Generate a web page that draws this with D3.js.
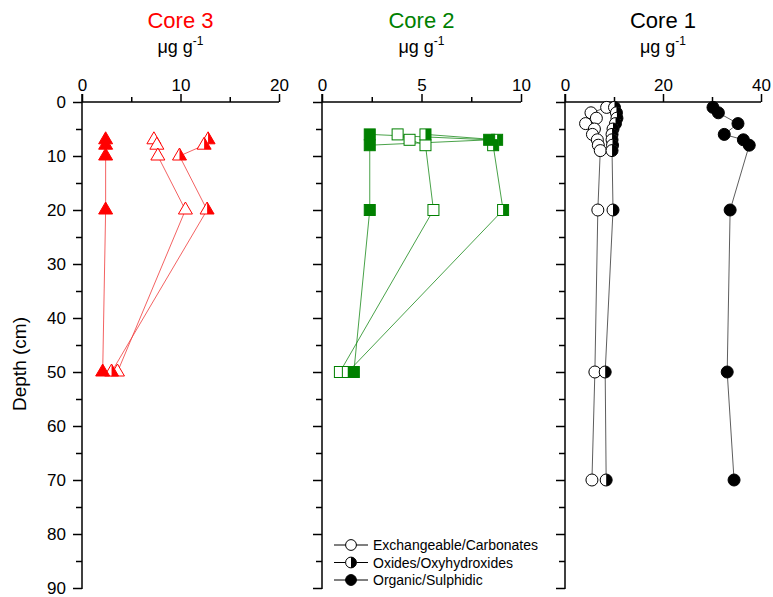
<!DOCTYPE html>
<html>
<head>
<meta charset="utf-8">
<script src="https://cdn.jsdelivr.net/npm/d3@7"></script>
<style>
  html, body { margin: 0; padding: 0; background: #fff; }
  svg text { font-family: "Liberation Sans", Arial, sans-serif; }
</style>
</head>
<body>
<svg id="chart" width="773" height="597"></svg>
<script>
// Depth profiles of metal fractions (µg g-1) in three sediment cores.

const fractions = ["Exchangeable/Carbonates", "Oxides/Oxyhydroxides", "Organic/Sulphidic"];
const depthTicks = [0, 10, 20, 30, 40, 50, 60, 70, 80, 90];

// Core 3 (triangles)
const core3Depths = [7, 8, 10, 20, 50];
const core3Exch = [7.3, 7.6, 7.7, 10.5, 3.6];
const core3Oxid = [12.8, 12.4, 9.9, 12.7, 3.0];
const core3Org = [2.4, 2.4, 2.4, 2.4, 2.1];
const core3Ticks = [0, 10, 20];

// Core 2 (squares)
const core2Depths = [6, 7, 8, 20, 50];
const core2Exch = [3.8, 4.4, 5.2, 5.6, 0.9];
const core2Oxid = [5.2, 8.8, 8.6, 9.1, 1.3];
const core2Org = [2.4, 8.4, 2.4, 2.4, 1.6];
const core2Ticks = [0, 5, 10];

// Core 1 (circles)
const core1ExchDepths = [1, 2, 3, 4, 5, 6, 7, 8, 9, 20, 50, 70];
const core1Exch = [8.5, 5.3, 6.4, 4.2, 6.0, 5.6, 6.6, 6.8, 7.2, 6.7, 6.1, 5.5];
const core1OxidDepths = [1, 2, 3, 4, 5, 6, 7, 8, 9, 20, 50, 70];
const core1Oxid = [10.1, 10.5, 10.6, 10.3, 9.8, 9.6, 9.6, 9.7, 9.6, 9.8, 8.2, 8.4];
const core1OrgDepths = [1, 2, 4, 6, 7, 8, 20, 50, 70];
const core1Org = [30.2, 31.3, 35.3, 32.5, 36.4, 37.6, 33.7, 33.1, 34.5];
const core1Ticks = [0, 20, 40];

const svg = d3.select("#chart");
const yTop = 102, yBottom = 588;
const y = d3.scaleLinear().domain([0, 90]).range([yTop, yBottom]);

const panels = [
  { title: "Core 3", color: "#ff0000", lineColor: "#f03a3a", x0: 82, x1: 279, max: 20, ticks: core3Ticks, minor: [5, 15], shape: "triangle",
    series: [
      { depths: core3Depths, values: core3Exch, fill: "open" },
      { depths: core3Depths, values: core3Oxid, fill: "half" },
      { depths: core3Depths, values: core3Org, fill: "full" }
    ] },
  { title: "Core 2", color: "#008000", lineColor: "#1a8a1a", x0: 322, x1: 521, max: 10, ticks: core2Ticks, minor: [2.5, 7.5], shape: "square",
    series: [
      { depths: core2Depths, values: core2Exch, fill: "open" },
      { depths: core2Depths, values: core2Oxid, fill: "half" },
      { depths: core2Depths, values: core2Org, fill: "full" }
    ] },
  { title: "Core 1", color: "#000000", lineColor: "#333", x0: 565, x1: 761, max: 40, ticks: core1Ticks, minor: [10, 30], shape: "circle",
    series: [
      { depths: core1ExchDepths, values: core1Exch, fill: "open" },
      { depths: core1OxidDepths, values: core1Oxid, fill: "half" },
      { depths: core1OrgDepths, values: core1Org, fill: "full" }
    ] }
];

// Draw one marker; "half" markers are open with the right half filled.
function marker(g, shape, fill, cx, cy, color, scale = 1) {
  if (shape === "triangle") {
    const w = 14, h = 12;
    const pts = [[cx, cy - 2 * h / 3], [cx - w / 2, cy + h / 3], [cx + w / 2, cy + h / 3]];
    g.append("path").attr("d", "M" + pts.join("L") + "Z")
      .attr("fill", fill === "full" ? color : "#fff").attr("stroke", color).attr("stroke-width", 1);
    if (fill === "half") {
      const hp = [[cx, cy - 2 * h / 3], [cx + w / 2, cy + h / 3], [cx, cy + h / 3]];
      g.append("path").attr("d", "M" + hp.join("L") + "Z").attr("fill", color);
    }
  } else if (shape === "square") {
    const s = 11;
    g.append("rect").attr("x", cx - s / 2).attr("y", cy - s / 2).attr("width", s).attr("height", s)
      .attr("fill", fill === "full" ? color : "#fff").attr("stroke", color).attr("stroke-width", 1);
    if (fill === "half") {
      g.append("rect").attr("x", cx).attr("y", cy - s / 2).attr("width", s / 2).attr("height", s).attr("fill", color);
    }
  } else {
    const r = 6 * scale;
    g.append("circle").attr("cx", cx).attr("cy", cy).attr("r", r)
      .attr("fill", fill === "full" ? color : "#fff").attr("stroke", color).attr("stroke-width", 1);
    if (fill === "half") {
      g.append("path").attr("d", `M${cx},${cy - r}A${r},${r} 0 0 1 ${cx},${cy + r}Z`).attr("fill", color);
    }
  }
}

panels.forEach((p, i) => {
  const x = d3.scaleLinear().domain([0, p.max]).range([p.x0, p.x1]);
  const g = svg.append("g");

  // Titles
  const cx = (p.x0 + p.x1) / 2;
  g.append("text").attr("x", cx).attr("y", 28).attr("text-anchor", "middle")
    .attr("font-size", 22).attr("fill", p.color).text(p.title);
  const unit = g.append("text").attr("x", cx).attr("y", 53).attr("text-anchor", "middle")
    .attr("font-size", 18).attr("fill", "#000");
  unit.append("tspan").text("\u03bcg g");
  unit.append("tspan").attr("font-size", 12).attr("dy", -8).text("-1");

  // Top value axis
  const xAxis = d3.axisTop(x).tickValues(p.ticks).tickSize(8).tickPadding(3).tickFormat(d3.format("d"));
  const ax = g.append("g").attr("transform", `translate(0,${yTop})`).call(xAxis);
  ax.select(".domain").attr("d", `M${p.x0},0H${p.x1}`).attr("stroke-width", 1.5);
  ax.selectAll(".tick line").attr("stroke-width", 1.5);
  ax.selectAll(".tick text").attr("font-size", 17).attr("font-family", "Liberation Sans, Arial, sans-serif").attr("fill", "#000");
  g.append("g").attr("transform", `translate(0,${yTop})`)
    .call(d3.axisTop(x).tickValues(p.minor).tickSize(5).tickFormat(""))
    .call(s => s.select(".domain").remove())
    .selectAll(".tick line").attr("stroke-width", 1.5);

  // Left depth axis
  const yAxis = d3.axisLeft(y).tickValues(depthTicks).tickSize(9).tickPadding(7)
    .tickFormat(i === 0 ? d3.format("d") : "");
  const ay = g.append("g").attr("transform", `translate(${p.x0},0)`).call(yAxis);
  ay.select(".domain").attr("d", `M0,${yTop - 8}V${yBottom + 1}`).attr("stroke-width", 1.5);
  ay.selectAll(".tick line").attr("stroke-width", 1.5);
  ay.selectAll(".tick text").attr("font-size", 17).attr("font-family", "Liberation Sans, Arial, sans-serif").attr("fill", "#000");
  g.append("g").attr("transform", `translate(${p.x0},0)`)
    .call(d3.axisLeft(y).tickValues(d3.range(5, 90, 10)).tickSize(6).tickFormat(""))
    .call(s => s.select(".domain").remove())
    .selectAll(".tick line").attr("stroke-width", 1.5);

  // Profile lines
  const line = d3.line().x(d => x(d[0])).y(d => y(d[1]));
  p.series.forEach(s => {
    const pts = s.values.map((v, k) => [v, s.depths[k]]);
    g.append("path").attr("d", line(pts)).attr("fill", "none")
      .attr("stroke", p.lineColor).attr("stroke-width", 0.8);
  });

  // Markers
  p.series.forEach(s => {
    s.values.forEach((v, k) => marker(g, p.shape, s.fill, x(v), y(s.depths[k]), p.color));
  });
});

// Depth label
svg.append("text").attr("transform", "translate(26,364) rotate(-90)").attr("text-anchor", "middle")
  .attr("font-size", 19).attr("fill", "#000").text("Depth (cm)");

// Legend
const legend = svg.append("g");
const fills = ["open", "half", "full"];
fractions.forEach((name, k) => {
  const ly = 545 + k * 17.5;
  legend.append("line").attr("x1", 334).attr("x2", 368).attr("y1", ly).attr("y2", ly)
    .attr("stroke", "#000").attr("stroke-width", 1);
  marker(legend, "circle", fills[k], 351, ly, "#000", 0.9);
  legend.append("text").attr("x", 373).attr("y", ly + 5).attr("font-size", 14).attr("fill", "#000").text(name);
});
</script>
</body>
</html>
